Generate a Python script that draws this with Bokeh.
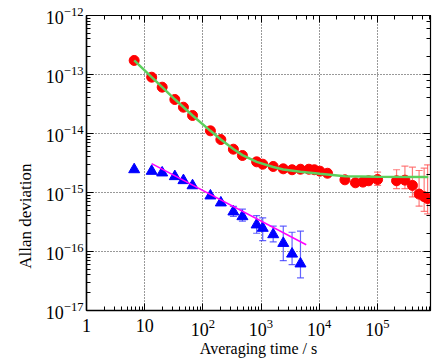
import numpy as np
from bokeh.plotting import figure
from bokeh.models import (LogAxis, ColumnDataSource, Whisker, TeeHead)
from bokeh.embed import file_html
from bokeh.resources import INLINE

# ---- data ----
red_tau = [6.6, 13.2, 20, 33, 46.4, 66.5, 135, 204, 335, 479, 841, 1070, 1620,
           2415, 3420, 4770, 6650, 8260, 10300, 13900,
           27700, 42000, 56400, 70600, 101000, 214000, 298000, 401000, 522000, 638000, 731000]
red_adev = [1.73e-13, 9.0e-14, 6.1e-14, 3.77e-14, 2.79e-14, 2.02e-14, 1.11e-14, 7.9e-15,
            5.42e-15, 4.24e-15, 3.31e-15, 3.02e-15, 2.76e-15,
            2.52e-15, 2.43e-15, 2.48e-15, 2.48e-15, 2.43e-15, 2.30e-15, 2.12e-15,
            1.64e-15, 1.46e-15, 1.50e-15, 1.58e-15, 1.66e-15, 1.58e-15, 1.62e-15,
            1.32e-15, 9.4e-16, 8.5e-16, 7.9e-16]

red_err_tau = [70600, 101000, 214000, 298000, 401000, 522000, 638000, 731000]
red_err_lo = [1.35e-15, 1.32e-15, 1.16e-15, 1.16e-15, 8.45e-16, 5.86e-16, 4.77e-16, 4.35e-16]
red_err_hi = [1.84e-15, 2.21e-15, 2.43e-15, 2.79e-15, 2.69e-15, 2.36e-15, 2.58e-15, 2.94e-15]

blue_tau = [6.6, 13.2, 20, 33, 46.4, 66.5, 135, 204, 335, 479, 841, 1070, 1620, 2415, 3420, 4770]
blue_adev = [2.45e-15, 2.30e-15, 2.16e-15, 1.87e-15, 1.60e-15, 1.31e-15, 8.8e-16, 6.7e-16,
             4.71e-16, 3.92e-16, 2.84e-16, 2.49e-16, 1.94e-16, 1.38e-16, 9.1e-17, 6.2e-17]
blue_err_tau = [335, 479, 841, 1070, 1620, 2415, 3420, 4770]
blue_err_lo = [3.92e-16, 3.27e-16, 2.04e-16, 1.53e-16, 1.46e-16, 7.0e-17, 6.0e-17, 3.58e-17]
blue_err_hi = [5.8e-16, 5.21e-16, 4.07e-16, 3.72e-16, 2.69e-16, 2.69e-16, 2.12e-16, 2.21e-16]

green_tau = [6.6, 13.2, 20, 33, 66.5, 135, 204, 335, 479, 841, 1620, 2415, 4770, 10300,
             27700, 100000, 750000]
green_adev = [1.73e-13, 9.0e-14, 6.1e-14, 3.8e-14, 2.02e-14, 1.11e-14, 7.9e-15, 5.45e-15,
              4.3e-15, 3.3e-15, 2.7e-15, 2.45e-15, 2.24e-15, 2.07e-15, 1.89e-15, 1.85e-15,
              1.84e-15]

magenta_tau = [13.2, 5990]
magenta_adev = [3.08e-15, 1.3e-16]

x_label_overrides = {1: "1", 10: "10"}

FONT = "Liberation Serif"

p = figure(x_axis_type="log", y_axis_type="log",
           x_range=(1, 8.2e5), y_range=(1e-17, 1e-12),
           frame_width=344, frame_height=295,
           min_border_left=86, min_border_top=15, min_border_right=12, min_border_bottom=3,
           output_backend="svg", toolbar_location=None,
           background_fill_color="white", border_fill_color="white")

p.outline_line_color = "black"
p.outline_line_width = 1.2

for ax in (p.xaxis[0], p.yaxis[0]):
    ax.major_tick_in = 7
    ax.major_tick_out = 0
    ax.minor_tick_in = 4
    ax.minor_tick_out = 0
    ax.axis_line_color = "black"
    ax.axis_line_width = 1.5
    ax.major_tick_line_color = "black"
    ax.minor_tick_line_color = "black"
    ax.major_label_text_font = FONT
    ax.major_label_text_font_size = "18px"
    ax.major_label_text_color = "black"
    ax.axis_label_text_font = FONT
    ax.axis_label_text_font_style = "normal"
    ax.axis_label_text_color = "black"

p.xaxis[0].axis_label = "Averaging time / s"
p.xaxis[0].axis_label_text_font_size = "16px"
p.yaxis[0].axis_label = "Allan deviation" + "\u00a0" * 25
p.yaxis[0].axis_label_text_font_size = "17px"
p.xaxis[0].major_label_overrides = x_label_overrides
p.xaxis[0].major_label_standoff = 8
p.yaxis[0].major_label_standoff = 3
p.xaxis[0].axis_label_standoff = 1
p.yaxis[0].axis_label_standoff = 8

# mirrored axes (ticks only)
for loc in ("above", "right"):
    ax = LogAxis()
    ax.major_tick_in = 7
    ax.major_tick_out = 0
    ax.minor_tick_in = 4
    ax.minor_tick_out = 0
    ax.major_label_text_color = None
    ax.major_label_text_font_size = "1px"
    ax.major_label_standoff = 0
    ax.axis_line_color = "black"
    p.add_layout(ax, loc)

p.xgrid.grid_line_color = "black"
p.ygrid.grid_line_color = "black"
p.xgrid.grid_line_dash = "1 2"
p.ygrid.grid_line_dash = "1 2"
p.xgrid.grid_line_alpha = 0.8
p.ygrid.grid_line_alpha = 0.8

# error bars
rsrc = ColumnDataSource(dict(x=red_err_tau, lo=red_err_lo, hi=red_err_hi))
p.add_layout(Whisker(source=rsrc, base="x", lower="lo", upper="hi", dimension="height",
                     line_color="#ff5050", line_alpha=0.75, line_width=1.2,
                     upper_head=TeeHead(size=7, line_color="#ff5050", line_alpha=0.75, line_width=1.2),
                     lower_head=TeeHead(size=7, line_color="#ff5050", line_alpha=0.75, line_width=1.2)))
bsrc = ColumnDataSource(dict(x=blue_err_tau, lo=blue_err_lo, hi=blue_err_hi))
p.add_layout(Whisker(source=bsrc, base="x", lower="lo", upper="hi", dimension="height",
                     line_color="#3030ff", line_alpha=0.75, line_width=1.2,
                     upper_head=TeeHead(size=7, line_color="#3030ff", line_alpha=0.75, line_width=1.2),
                     lower_head=TeeHead(size=7, line_color="#3030ff", line_alpha=0.75, line_width=1.2)))

p.scatter(red_tau, red_adev, marker="circle", size=10, fill_color="#ff0000", line_color="#ff0000")
p.scatter(blue_tau, blue_adev, marker="triangle", size=11, fill_color="#0000ff", line_color="#0000ff")

p.line(green_tau, green_adev, line_color="#5ccf5c", line_width=2.5)
p.line(magenta_tau, magenta_adev, line_color="#ff00ff", line_width=1.5)

open("out.html", "w").write(file_html(p, INLINE))
